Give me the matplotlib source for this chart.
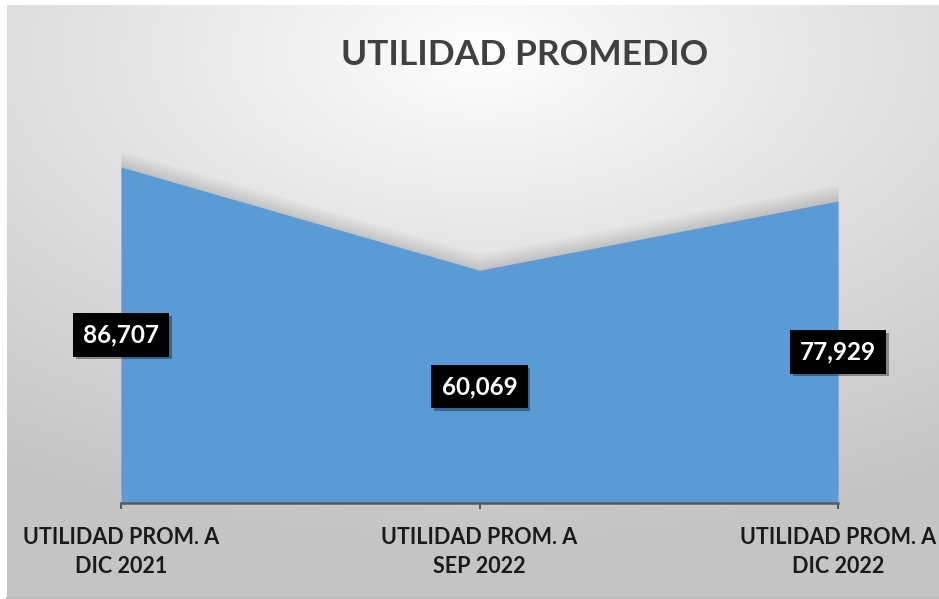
import numpy as np
import matplotlib
matplotlib.use("Agg")
import matplotlib.pyplot as plt
import matplotlib.patheffects as pe
from matplotlib.transforms import offset_copy

categories = ["UTILIDAD PROM. A\nDIC 2021", "UTILIDAD PROM. A\nSEP 2022", "UTILIDAD PROM. A\nDIC 2022"]
values = [86707, 60069, 77929]
title = "UTILIDAD PROMEDIO"

W, H = 939, 599
plt.rcParams['font.family'] = ['Lato', 'DejaVu Sans']
fig = plt.figure(figsize=(W / 100, H / 100), dpi=100, facecolor="white")

# background with radial gradient
bg = fig.add_axes([7 / W, 0, (W - 7) / W, (H - 5) / H], zorder=0)
gx, gy = np.meshgrid(np.linspace(0, 1, 400), np.linspace(0, 1, 300))
cx, cy = 0.51, 0.08
d = np.sqrt(((gx - cx) * 1.0) ** 2 + ((gy - cy) * 1.15) ** 2)
d = np.clip(d / 0.95, 0, 1)
g = 1.0 - 0.23 * d ** 0.9
bg.imshow(np.dstack([g, g, g]), aspect="auto", extent=(0, 1, 1, 0), interpolation="bilinear")
bg.set_xlim(0, 1)
bg.set_ylim(1, 0)
bg.axis("off")
bg.plot([0, 1], [0.002, 0.002], color="#bdbdbd", lw=1.5, transform=bg.transAxes, clip_on=False)

ax = fig.add_axes([121 / W, (H - 503) / H, (838 - 121) / W, 387.5 / H], zorder=1)
ax.patch.set_alpha(0)
x = np.arange(len(values))

# soft shadow above area edge
for k in range(1, 18):
    tr = offset_copy(ax.transData, fig=fig, x=0, y=k * 1.0, units='dots')
    ax.fill_between(x, 0, values, color="black", alpha=0.0065, lw=0, transform=tr)

ax.fill_between(x, 0, values, color="#5B9BD5", lw=0, zorder=2)

ax.set_xlim(0, len(values) - 1)
ax.set_ylim(0, 100000)
ax.set_yticks([])
for s in ["top", "left", "right"]:
    ax.spines[s].set_visible(False)
ax.spines["bottom"].set_color("#595959")
ax.spines["bottom"].set_linewidth(1.8)
ax.spines["bottom"].set_zorder(3)
ax.set_xticks(x)
ax.set_xticklabels(categories, fontsize=15.5, fontweight="bold", color="#1a1a1a", linespacing=1.5)
ax.tick_params(axis="x", direction="out", length=4, width=1.5, color="#595959", pad=13)

for i, v in enumerate(values):
    t = ax.text(i, v / 2, f"{v:,}", ha="center", va="center", fontsize=17.5, fontweight="bold",
                color="white", zorder=5,
                bbox=dict(boxstyle="square,pad=0.42", fc="black", ec="none"))
    t.get_bbox_patch().set_path_effects([pe.SimplePatchShadow(offset=(2, -2), alpha=0.35), pe.Normal()])

fig.text(525 / W, 1 - 55 / H, title, ha="center", va="center", fontsize=25.5, fontweight="bold", color="#404040")

fig.savefig("out.png", dpi=100, facecolor="white")
